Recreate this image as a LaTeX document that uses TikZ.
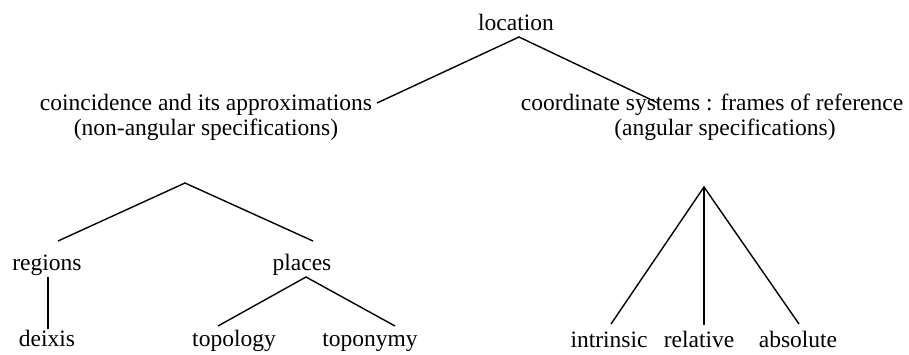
\documentclass[tikz,border=0pt]{standalone}
\usepackage{fontspec}
\setmainfont{Liberation Serif}
\begin{document}
\begin{tikzpicture}[x=1pt,y=-1pt,
  lbl/.style={anchor=base,inner sep=0pt,font=\fontsize{23.5}{25}\selectfont},
  two/.style={lbl,align=center},
  edge/.style={draw=black,line width=1.4pt}]
\useasboundingbox (0,0) rectangle (909,354);
% nodes
\node[lbl] (loc) at (516,30) {location};
\node[two] (coinc) at (206,135) {coincidence and its approximations\\(non-angular specifications)};
\node[two] (coord) at (712,135) {coordinate systems : frames of reference\\\hspace*{26pt}(angular specifications)};
\node[lbl] (reg) at (47,270) {regions};
\node[lbl] (pla) at (302,270) {places};
\node[lbl] (dei) at (47,346) {deixis};
\node[lbl] (top) at (234,346) {topology};
\node[lbl] (ton) at (370,346) {toponymy};
\node[lbl] (int) at (609,347) {intrinsic};
\node[lbl] (rel) at (699,347) {relative};
\node[lbl] (abs) at (798,347) {absolute};
% connector end points
\coordinate (locB) at (519,37);
\coordinate (coincT) at (377,103);
\coordinate (coordT) at (658,103);
\coordinate (coincB) at (185,183);
\coordinate (regT) at (58,241);
\coordinate (plaT) at (313,241);
\coordinate (regB) at (48,277);
\coordinate (deiT) at (48,329);
\coordinate (plaB) at (306,277);
\coordinate (topT) at (218,326);
\coordinate (tonT) at (395,326);
\coordinate (coordB) at (704,187);
\coordinate (intT) at (611,324);
\coordinate (relT) at (704,325);
\coordinate (absT) at (799,324);
% connectors
\draw[edge] (coincT) -- (locB) -- (coordT);
\draw[edge] (regT) -- (coincB) -- (plaT);
\draw[edge] (regB) -- (deiT);
\draw[edge] (topT) -- (plaB) -- (tonT);
\draw[edge] (intT) -- (coordB) -- (absT);
\draw[edge] (coordB) -- (relT);
\end{tikzpicture}
\end{document}
